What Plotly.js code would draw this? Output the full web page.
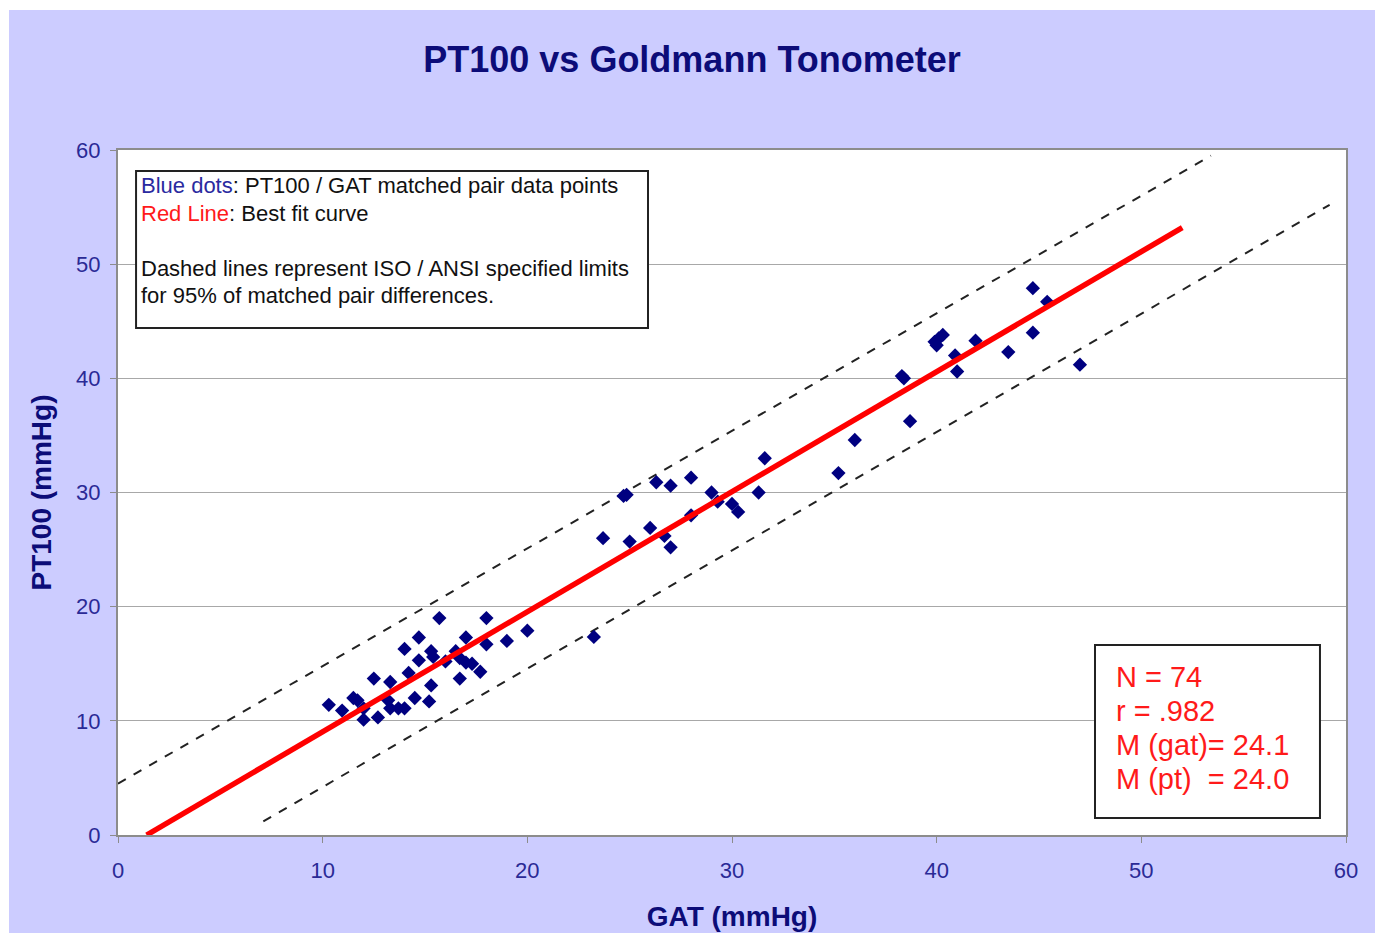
<!DOCTYPE html>
<html>
<head>
<meta charset="utf-8">
<script src="https://cdn.plot.ly/plotly-3.0.1.min.js"></script>
<style>
html, body { margin: 0; padding: 0; background: #ffffff; width: 1375px; height: 933px; overflow: hidden; }
#chart { position: absolute; left: 9px; top: 10px; width: 1366px; height: 923px; }
</style>
</head>
<body>
<div id="chart"></div>
<script>
// GAT (x) vs PT100 (y) matched pairs
const gat = [10.3, 10.95, 11.5, 11.7, 12.0, 12.0, 12.5, 12.7, 13.2, 13.3, 13.3, 13.7, 14.0, 14.0, 14.2, 14.5, 14.7, 14.7, 15.2, 15.3, 15.3, 15.4, 15.7, 16.0, 16.5, 16.7, 16.7, 17.0, 17.0, 17.3, 17.7, 18.0, 18.0, 19.0, 20.0,
  23.25, 23.7, 25.0, 24.7, 24.85, 26.0, 26.3, 26.7, 27.0, 27.0, 28.0, 28.0, 29.0, 29.3, 30.0, 30.3, 31.3, 31.6,
  35.2, 36.0, 38.7, 38.3, 38.4, 39.9, 40.1, 40.3, 40.0, 40.9, 41.0, 41.9, 43.5, 44.7, 44.7, 45.4, 47.0];
const pt100 = [11.4, 10.9, 12.0, 11.8, 11.1, 10.1, 13.7, 10.3, 11.8, 13.4, 11.1, 11.1, 11.1, 16.3, 14.2, 12.0, 17.3, 15.3, 11.7, 13.1, 16.1, 15.6, 19.0, 15.2, 16.1, 13.7, 15.5, 17.3, 15.1, 15.0, 14.3, 19.0, 16.7, 17.0, 17.9,
  17.35, 26.0, 25.7, 29.7, 29.8, 26.9, 30.9, 26.2, 25.2, 30.6, 31.3, 28.0, 30.0, 29.2, 29.0, 28.3, 30.0, 33.0,
  31.7, 34.6, 36.25, 40.2, 40.0, 43.2, 43.5, 43.8, 42.9, 42.0, 40.6, 43.3, 42.3, 47.9, 44.0, 46.7, 41.2];

// Best fit line and ISO / ANSI limit lines (end points)
const fitX = [1.4, 52.0];
const fitY = [0.0, 53.2];
const upperX = [0.0, 53.4];
const upperY = [4.5, 59.5];
const lowerX = [7.1, 59.2];
const lowerY = [1.2, 55.2];

const xTicks = [0, 10, 20, 30, 40, 50, 60];
const yTicks = [0, 10, 20, 30, 40, 50, 60];

const legendLines = [
  '<span style="color:#2a2aa0">Blue dots</span>: PT100 / GAT matched pair data points',
  '<span style="color:#ff1a1a">Red Line</span>: Best fit curve',
  'Dashed lines represent ISO / ANSI specified limits',
  'for 95% of matched pair differences.'
];
const statLines = ['N = 74', 'r = .982', 'M (gat)= 24.1', 'M (pt)\u00a0\u00a0= 24.0'];

const FONT = 'Liberation Sans, Arial, sans-serif';
const NAVY = '#0c0c78';
const TICKC = '#2a2a96';

const traces = [
  { x: upperX, y: upperY, mode: 'lines', line: { color: '#222222', width: 2, dash: 'dash' }, hoverinfo: 'skip', showlegend: false },
  { x: lowerX, y: lowerY, mode: 'lines', line: { color: '#222222', width: 2, dash: 'dash' }, hoverinfo: 'skip', showlegend: false },
  { x: gat, y: pt100, mode: 'markers', marker: { symbol: 'diamond', color: '#000080', size: 11 }, showlegend: false },
  { x: fitX, y: fitY, mode: 'lines', line: { color: '#ff0000', width: 5.5 }, hoverinfo: 'skip', showlegend: false }
];

const legendY = [0.9489, 0.908, 0.8277, 0.7869];
const statY = [0.2307, 0.181, 0.1314, 0.0818];
const annotations = [];
legendLines.forEach((t, i) => annotations.push({
  xref: 'paper', yref: 'paper', x: 0.0175, y: legendY[i], xanchor: 'left', yanchor: 'middle',
  text: t, showarrow: false, font: { family: FONT, size: 22, color: '#111111' }, align: 'left'
}));
statLines.forEach((t, i) => annotations.push({
  xref: 'paper', yref: 'paper', x: 0.8113, y: statY[i], xanchor: 'left', yanchor: 'middle',
  text: t, showarrow: false, font: { family: FONT, size: 29, color: '#ff1a1a' }, align: 'left'
}));

const layout = {
  width: 1366, height: 923,
  paper_bgcolor: '#ccccff', plot_bgcolor: '#ffffff',
  margin: { l: 109, r: 29, t: 140, b: 98 },
  font: { family: FONT },
  title: { text: '<b>PT100 vs Goldmann Tonometer</b>', x: 0.5, xref: 'container', xanchor: 'center', y: 0.946, yanchor: 'middle',
           font: { family: FONT, size: 36, color: NAVY } },
  xaxis: {
    range: [0, 60], tickvals: xTicks, ticktext: xTicks.map(String), showgrid: false, zeroline: false,
    showline: true, mirror: true, linecolor: '#8c8c8c', linewidth: 2,
    ticks: 'outside', ticklen: 6, tickcolor: '#8c8c8c', ticklabelstandoff: 9, tickfont: { family: FONT, size: 22, color: TICKC },
    title: { text: '<b>GAT (mmHg)</b>', standoff: 24, font: { family: FONT, size: 28, color: NAVY } }
  },
  yaxis: {
    range: [0, 60], tickvals: yTicks, ticktext: yTicks.map(String), showgrid: true, gridcolor: '#a8a8a8', gridwidth: 1, zeroline: false,
    showline: true, mirror: true, linecolor: '#8c8c8c', linewidth: 2,
    ticks: 'outside', ticklen: 6, tickcolor: '#8c8c8c', ticklabelstandoff: 5, tickfont: { family: FONT, size: 22, color: TICKC },
    title: { text: '<b>PT100 (mmHg)</b>', standoff: 16, font: { family: FONT, size: 28, color: NAVY } }
  },
  shapes: [
    { type: 'rect', xref: 'paper', yref: 'paper', x0: 0.0147, x1: 0.4316, y0: 0.740, y1: 0.9693,
      fillcolor: '#ffffff', line: { color: '#222222', width: 2 }, layer: 'above' },
    { type: 'rect', xref: 'paper', yref: 'paper', x0: 0.7956, x1: 0.9788, y0: 0.0248, y1: 0.2774,
      fillcolor: '#ffffff', line: { color: '#222222', width: 2 }, layer: 'above' }
  ],
  annotations: annotations
};

Plotly.newPlot('chart', traces, layout, { displayModeBar: false, staticPlot: true });
</script>
</body>
</html>
